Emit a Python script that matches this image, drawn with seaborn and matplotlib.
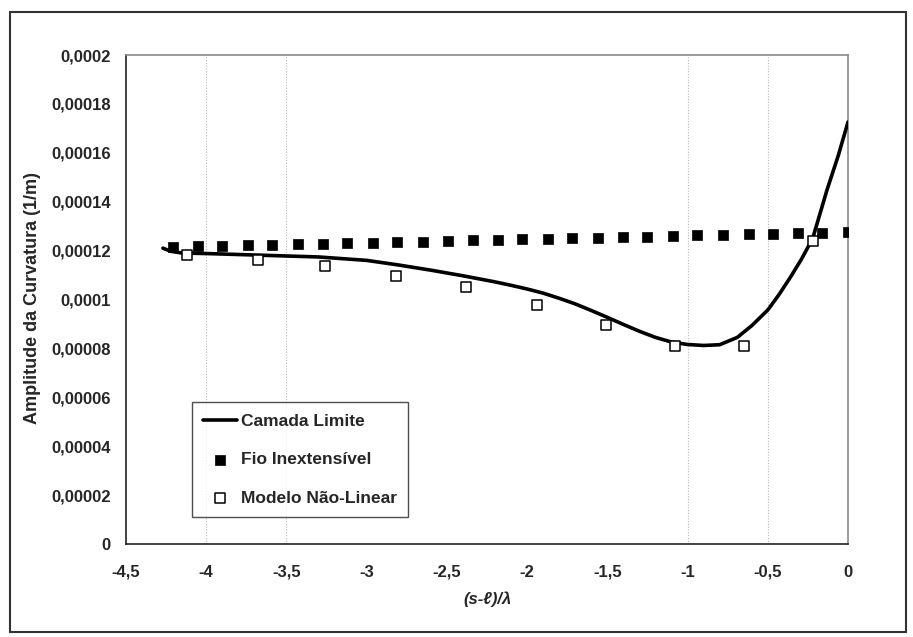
import numpy as np
import pandas as pd
import matplotlib
matplotlib.use("Agg")
import matplotlib.pyplot as plt
import seaborn as sns
from matplotlib.patches import Rectangle

# ---------------- data ----------------
camada_x = [-4.27, -4.22, -4.15, -4.0, -3.7, -3.3, -3.0, -2.8, -2.6, -2.4, -2.2,
            -2.1, -2.0, -1.9, -1.8, -1.7, -1.6, -1.5, -1.4, -1.3, -1.2, -1.1,
            -1.0, -0.9, -0.8, -0.69, -0.6, -0.5, -0.43, -0.36, -0.29, -0.22,
            -0.13, -0.06, 0.0]
camada_y = [1.210e-4, 1.197e-4, 1.190e-4, 1.188e-4, 1.182e-4, 1.174e-4, 1.160e-4,
            1.141e-4, 1.120e-4, 1.097e-4, 1.072e-4, 1.058e-4, 1.043e-4, 1.026e-4,
            1.005e-4, 0.982e-4, 0.955e-4, 0.927e-4, 0.898e-4, 0.870e-4, 0.845e-4,
            0.826e-4, 0.816e-4, 0.812e-4, 0.815e-4, 0.845e-4, 0.893e-4, 0.957e-4,
            1.020e-4, 1.090e-4, 1.165e-4, 1.250e-4, 1.450e-4, 1.590e-4, 1.726e-4]

fio_x = [-4.21, -4.05, -3.90, -3.74, -3.59, -3.43, -3.27, -3.12, -2.96, -2.81,
         -2.65, -2.49, -2.34, -2.18, -2.03, -1.87, -1.72, -1.56, -1.40, -1.25,
         -1.09, -0.94, -0.78, -0.62, -0.47, -0.31, -0.16, 0.00]
fio_y = [1.215e-4, 1.217e-4, 1.218e-4, 1.221e-4, 1.224e-4, 1.226e-4, 1.228e-4,
         1.230e-4, 1.233e-4, 1.235e-4, 1.237e-4, 1.239e-4, 1.242e-4, 1.244e-4,
         1.246e-4, 1.248e-4, 1.251e-4, 1.253e-4, 1.255e-4, 1.257e-4, 1.260e-4,
         1.262e-4, 1.264e-4, 1.266e-4, 1.269e-4, 1.271e-4, 1.273e-4, 1.275e-4]

modelo_x = [-4.12, -3.68, -3.26, -2.82, -2.38, -1.94, -1.51, -1.08, -0.65, -0.22]
modelo_y = [1.182e-4, 1.160e-4, 1.137e-4, 1.096e-4, 1.051e-4, 0.978e-4,
            0.896e-4, 0.810e-4, 0.810e-4, 1.239e-4]

x_ticks = [-4.5, -4.0, -3.5, -3.0, -2.5, -2.0, -1.5, -1.0, -0.5, 0.0]
x_tick_labels = ["-4,5", "-4", "-3,5", "-3", "-2,5", "-2", "-1,5", "-1", "-0,5", "0"]
y_ticks = [0, 2e-5, 4e-5, 6e-5, 8e-5, 1e-4, 1.2e-4, 1.4e-4, 1.6e-4, 1.8e-4, 2e-4]
y_tick_labels = ["0", "0,00002", "0,00004", "0,00006", "0,00008", "0,0001",
                 "0,00012", "0,00014", "0,00016", "0,00018", "0,0002"]
grid_x = [-4.0, -3.5, -1.0, -0.5]
legend_labels = ["Camada Limite", "Fio Inextensível", "Modelo Não-Linear"]
x_label = "(s-ℓ)/λ"
y_label = "Amplitude da Curvatura (1/m)"

df_c = pd.DataFrame({"x": camada_x, "y": camada_y})
df_f = pd.DataFrame({"x": fio_x, "y": fio_y})
df_m = pd.DataFrame({"x": modelo_x, "y": modelo_y})

# ---------------- style ----------------
sns.set_style("white")
plt.rcParams['font.family'] = ['Liberation Sans', 'DejaVu Sans']
plt.rcParams['font.weight'] = 'bold'

W, H = 913, 637
fig = plt.figure(figsize=(W / 100, H / 100), dpi=100)
L, R, T, B = 126, 848, 55, 544
ax = fig.add_axes([L / W, 1 - B / H, (R - L) / W, (B - T) / H])

for gx in grid_x:
    ax.axvline(gx, color="#b8b8b8", lw=0.8, ls=(0, (1, 1.5)), zorder=0)

sns.lineplot(data=df_c, x="x", y="y", ax=ax, color="black", lw=2.6,
             sort=False, label=legend_labels[0], zorder=3)
sns.scatterplot(data=df_f, x="x", y="y", ax=ax, marker="s", s=55,
                color="black", edgecolor="black", linewidth=0.5,
                label=legend_labels[1], zorder=4)
sns.scatterplot(data=df_m, x="x", y="y", ax=ax, marker="s", s=62,
                facecolor="white", edgecolor="black", linewidth=1.1,
                label=legend_labels[2], zorder=5)

ax.set_xlim(-4.5, 0)
ax.set_ylim(0, 2e-4)
ax.set_xticks(x_ticks)
ax.set_xticklabels(x_tick_labels)
ax.set_yticks(y_ticks)
ax.set_yticklabels(y_tick_labels)
ax.tick_params(axis="both", direction="out", length=4, width=1, color="#333333",
               labelsize=12)
ax.tick_params(axis="y", pad=7)
ax.tick_params(axis="x", pad=11)
ax.set_xlabel("")
ax.set_ylabel("")

for side in ["left", "bottom"]:
    ax.spines[side].set_color("#222222")
    ax.spines[side].set_linewidth(1.2)
for side in ["top", "right"]:
    ax.spines[side].set_color("#8a8a8a")
    ax.spines[side].set_linewidth(1.2)

leg = ax.legend(loc="lower left", bbox_to_anchor=(0.091, 0.055), borderaxespad=0,
                frameon=True, fancybox=False, edgecolor="#222222",
                fontsize=12.5, labelspacing=1.35, handlelength=1.95,
                handletextpad=0.25, borderpad=0.65, markerscale=1.0)
leg.get_frame().set_linewidth(1.0)

fig.text(488 / W, 1 - 599 / H, x_label, ha="center", va="center",
         fontsize=12, fontstyle="italic", fontweight="bold",
         family=['Liberation Sans', 'DejaVu Sans'])
fig.text(33 / W, 1 - 298 / H, y_label, ha="center", va="center",
         rotation=90, fontsize=13, fontweight="bold")

fig.patches.append(Rectangle((10 / W, 1 - 632 / H), 896 / W, 620 / H,
                             transform=fig.transFigure, fill=False,
                             edgecolor="#333333", lw=1.5))

fig.savefig("out.png", dpi=100)
